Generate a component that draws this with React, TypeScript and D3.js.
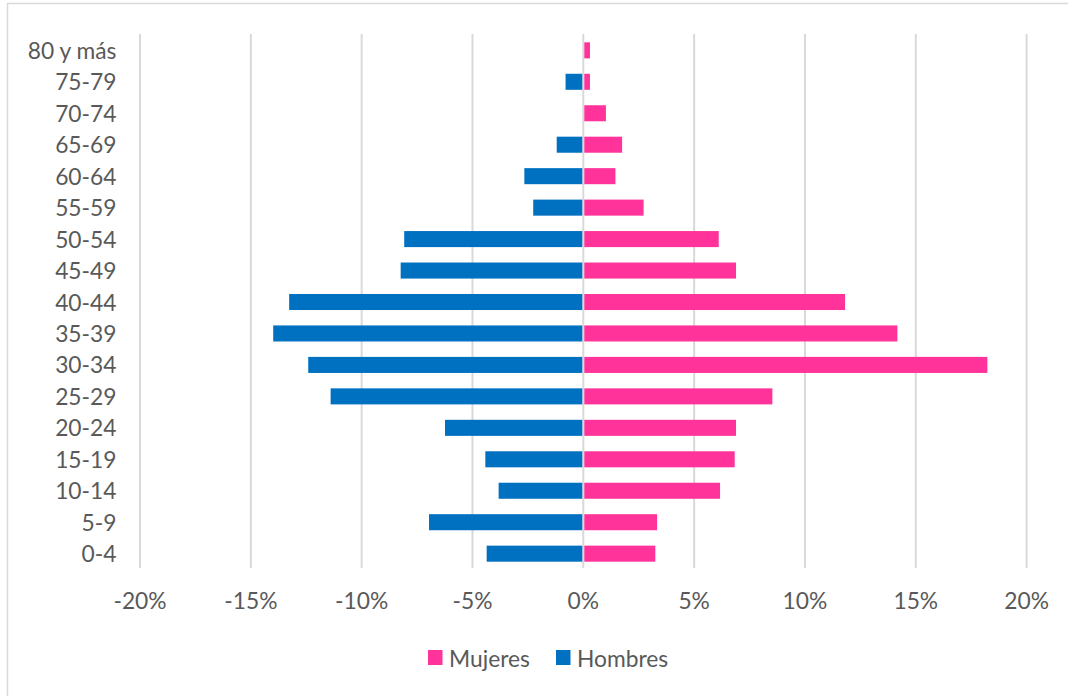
import React from "react";
import * as d3 from "d3";

const categories = [
  "80 y más", "75-79", "70-74", "65-69", "60-64", "55-59", "50-54", "45-49",
  "40-44", "35-39", "30-34", "25-29", "20-24", "15-19", "10-14", "5-9", "0-4",
];
// percentages
const hombres = [0, -0.8, 0, -1.2, -2.66, -2.26, -8.08, -8.24, -13.27, -13.99, -12.41, -11.4, -6.24, -4.42, -3.82, -6.96, -4.36];
const mujeres = [0.3, 0.3, 1.02, 1.75, 1.45, 2.72, 6.11, 6.89, 11.81, 14.17, 18.23, 8.53, 6.89, 6.83, 6.17, 3.33, 3.25];
const xTicks = [-20, -15, -10, -5, 0, 5, 10, 15, 20];
const legendItems = [
  { label: "Mujeres", color: "#FF3399" },
  { label: "Hombres", color: "#0070C0" },
];

const W = 1068;
const H = 696;
const FONT = "Lato, 'Open Sans', sans-serif";
const TEXT = "#595959";
const GRID = "#D9D9D9";
const FS = 22.8;

export default function App() {
  const x = d3.scaleLinear().domain([-20, 20]).range([140, 1026.6]);
  const y = d3.scaleBand<string>().domain(categories).range([34.6, 569.4]).paddingInner(0.49).paddingOuter(0.245);
  const bh = y.bandwidth();
  const x0 = x(0);

  const legendX = [428, 556];

  return (
    <div style={{ position: "fixed", left: 0, top: 0 }}>
      <svg width={W} height={H} style={{ display: "block", background: "#fff" }}>
        <rect x={7.5} y={3.5} width={W + 20} height={H + 20} fill="#fff" stroke={GRID} strokeWidth={1.5} />
        {xTicks.map((t) => (
          <line key={"g" + t} x1={x(t)} x2={x(t)} y1={34} y2={568} stroke={GRID} strokeWidth={2} />
        ))}
        {categories.map((c, i) => {
          const yy = y(c)!;
          const h = hombres[i];
          const m = mujeres[i];
          return (
            <g key={c}>
              {h < 0 && (
                <rect x={x(h)} y={yy} width={x0 - 1 - x(h)} height={bh} fill="#0070C0" />
              )}
              {m > 0 && (
                <rect x={x0 + 1} y={yy} width={x(m) - x0 - 1} height={bh} fill="#FF3399" />
              )}
              <text
                x={116.5}
                y={yy + bh / 2 - 0.5}
                textAnchor="end"
                dominantBaseline="central"
                fontFamily={FONT}
                fontSize={FS}
                fill={TEXT}
              >
                {c}
              </text>
            </g>
          );
        })}
        {xTicks.map((t) => (
          <text
            key={"t" + t}
            x={x(t)}
            y={600}
            textAnchor="middle"
            dominantBaseline="central"
            fontFamily={FONT}
            fontSize={FS}
            fill={TEXT}
          >
            {`${t}%`}
          </text>
        ))}
        {legendItems.map((it, i) => (
          <g key={it.label}>
            <rect x={legendX[i]} y={650} width={14.5} height={15} fill={it.color} />
            <text
              x={legendX[i] + 21}
              y={657.5}
              dominantBaseline="central"
              fontFamily={FONT}
              fontSize={FS}
              fill={TEXT}
            >
              {it.label}
            </text>
          </g>
        ))}
      </svg>
    </div>
  );
}
